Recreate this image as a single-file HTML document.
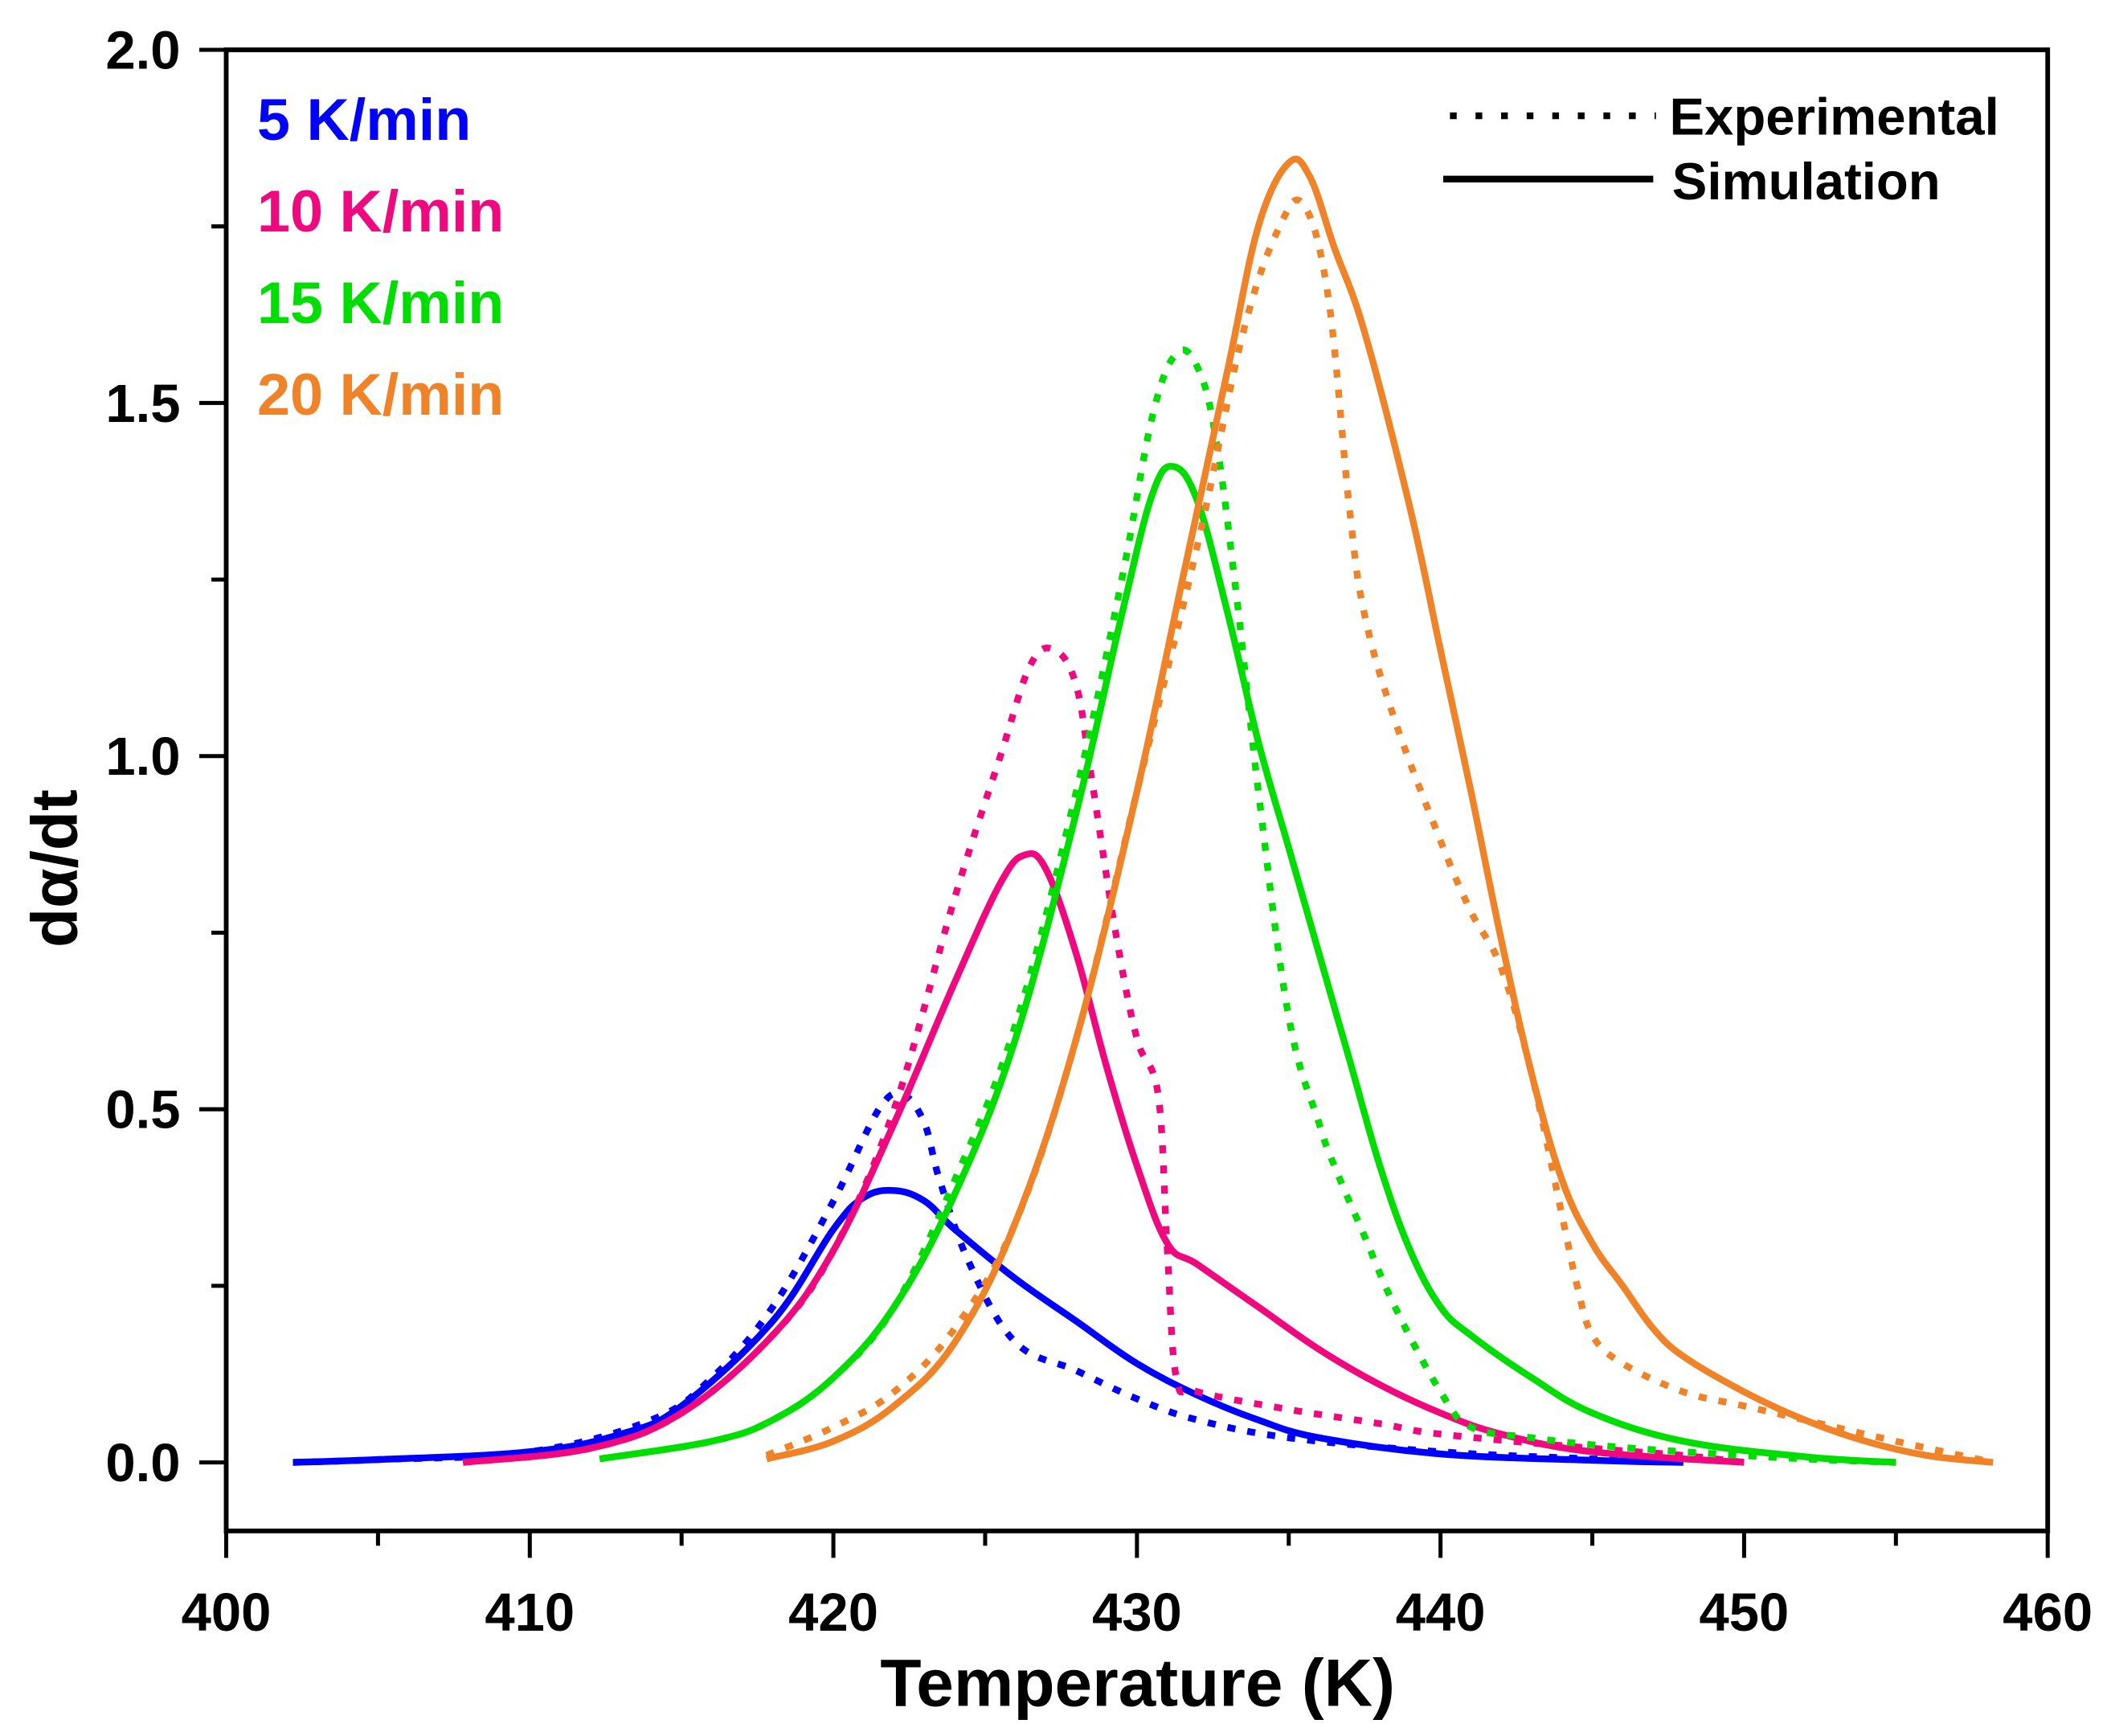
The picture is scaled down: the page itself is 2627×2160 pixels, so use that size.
<!DOCTYPE html>
<html><head><meta charset="utf-8"><style>
html,body{margin:0;padding:0;background:#fff}
svg{display:block}
text{font-family:"Liberation Sans",Arial,sans-serif;font-weight:bold}
</style></head><body>
<svg id="chart" width="2627" height="2160" viewBox="0 0 1568 1289.3" xmlns="http://www.w3.org/2000/svg">
<g id="plot"></g>
<g id="axes"></g>
<text x="0" y="0" transform="translate(57,645) rotate(-90)" text-anchor="middle" font-size="48">dα/dt</text>
<text x="845" y="1267" text-anchor="middle" font-size="50">Temperature (K)</text>
<g font-size="44">
<text x="191" y="104" fill="#0000ff">5 K/min</text>
<text x="191" y="172" fill="#f0087f">10 K/min</text>
<text x="191" y="240" fill="#00dd00">15 K/min</text>
<text x="191" y="308" fill="#f08228">20 K/min</text>
</g>
<g font-size="39">
<line x1="1077" y1="86" x2="1230" y2="86" stroke="#000" stroke-width="5" stroke-dasharray="5 14"/>
<text x="1240" y="100">Experimental</text>
<line x1="1072" y1="133" x2="1228" y2="133" stroke="#000" stroke-width="5"/>
<text x="1242" y="148">Simulation</text>
</g>
</svg>
<script>
const xTicks=[400,410,420,430,440,450,460];
const yTicks=[0.0,0.5,1.0,1.5,2.0];
const seriesNames=['5','10','15','20'];
const seriesColors=['#0000ff','#f0087f','#00dd00','#f08228'];
const simT5=[402.2,405,410,413,415,418,420,421,422,423,424,426,428,430,432,434,436,440,445,448];
const simV5=[0,0.004,0.015,0.04,0.08,0.2,0.33,0.375,0.385,0.37,0.33,0.26,0.2,0.14,0.095,0.06,0.035,0.012,0.003,0];
const expT5=[402.2,405,410,414,416,418,420,421.5,422.3,423,423.5,424.5,426,428,430,432,435,440,445,448];
const expV5=[0,0.004,0.015,0.06,0.12,0.22,0.37,0.5,0.52,0.48,0.4,0.28,0.17,0.13,0.09,0.06,0.035,0.015,0.005,0];
const simT10=[407.8,412,415,418,420,422,424,425.5,426.3,427,428,429,430,431,432,434,436,438,440,442,445,450];
const simV10=[0,0.02,0.07,0.18,0.3,0.48,0.68,0.82,0.86,0.84,0.72,0.56,0.42,0.31,0.28,0.22,0.16,0.11,0.07,0.04,0.015,0];
const expT10=[407.8,412,415,418,420,422,424,425.5,426.5,427.3,428,428.5,429.3,430,430.7,431,431.3,432,435,438,440,445,448,450];
const expV10=[0,0.02,0.07,0.18,0.3,0.5,0.8,1.0,1.13,1.15,1.1,0.97,0.75,0.6,0.52,0.3,0.12,0.1,0.075,0.055,0.04,0.02,0.01,0];
const simT15=[412.3,416,418,420,422,424,426,428,429.5,430.5,431.2,432,433,434,435,436,437,438,439,440,441,443,445,448,452,455];
const simV15=[0.005,0.03,0.06,0.12,0.22,0.38,0.6,0.92,1.2,1.37,1.41,1.36,1.2,1.02,0.87,0.72,0.57,0.42,0.3,0.22,0.18,0.12,0.07,0.03,0.008,0];
const expT15=[412.3,416,418,420,422,424,426,428,429.5,430.5,431.3,432,432.6,433.3,434,435,436,436.5,437.5,438.5,440,441,443,445,448,452,455];
const expV15=[0.005,0.03,0.06,0.12,0.22,0.4,0.62,0.95,1.25,1.48,1.57,1.55,1.45,1.22,0.95,0.63,0.48,0.42,0.32,0.22,0.1,0.05,0.035,0.025,0.015,0.005,0];
const simT20=[417.8,420,422,424,426,428,430,431.5,433,434,435,435.7,436.5,437.5,439,440,441,442,443,444,445,446,447,448,450,452,454,456,458.2];
const simV20=[0.005,0.03,0.08,0.17,0.34,0.6,0.95,1.25,1.55,1.75,1.84,1.82,1.72,1.6,1.35,1.15,0.95,0.74,0.55,0.4,0.31,0.25,0.19,0.15,0.1,0.06,0.03,0.01,0];
const expT20=[417.8,420,422,424,426,428,430,432,433.5,434.7,435.5,436.3,437,437.5,438.5,440,441,442,443,444,444.5,445,446,448,450,452,455,458.2];
const expV20=[0.01,0.05,0.1,0.19,0.34,0.6,0.95,1.3,1.6,1.75,1.78,1.65,1.35,1.2,1.05,0.88,0.78,0.7,0.55,0.35,0.25,0.18,0.14,0.1,0.08,0.06,0.03,0];

const L=168,R=1521,T=37,B=1137,X0=400,X1=460,Y0=-0.097,Y1=2.0;
const xs=v=>L+(v-X0)/(X1-X0)*(R-L);
const ys=v=>B-(v-Y0)/(Y1-Y0)*(B-T);
const NS='http://www.w3.org/2000/svg';
const plot=document.getElementById('plot'),axes=document.getElementById('axes');
function mk(tag,attrs,parent){const e=document.createElementNS(NS,tag);for(const k in attrs)e.setAttribute(k,attrs[k]);parent.appendChild(e);return e;}
const sims=[[simT5,simV5],[simT10,simV10],[simT15,simV15],[simT20,simV20]];
const exps=[[expT5,expV5],[expT10,expV10],[expT15,expV15],[expT20,expV20]];
function smooth(t,v){
 const p=t.map((x,i)=>[xs(x),ys(v[i])]);
 let d='M'+p[0][0].toFixed(1)+','+p[0][1].toFixed(1);
 const k=0.18;
 for(let i=0;i<p.length-1;i++){
  const p0=p[Math.max(0,i-1)],p1=p[i],p2=p[i+1],p3=p[Math.min(p.length-1,i+2)];
  const c1=[p1[0]+(p2[0]-p0[0])*k,p1[1]+(p2[1]-p0[1])*k];
  const c2=[p2[0]-(p3[0]-p1[0])*k,p2[1]-(p3[1]-p1[1])*k];
  d+=' C'+c1[0].toFixed(1)+','+c1[1].toFixed(1)+' '+c2[0].toFixed(1)+','+c2[1].toFixed(1)+' '+p2[0].toFixed(1)+','+p2[1].toFixed(1);
 }
 return d;
}
for(let i=0;i<4;i++){
 const e=mk('path',{d:smooth(exps[i][0],exps[i][1]),fill:'none',stroke:seriesColors[i],'stroke-width':5,'stroke-dasharray':'6 9','stroke-linejoin':'round'},plot);
 
 
 const s=mk('path',{d:smooth(sims[i][0],sims[i][1]),fill:'none',stroke:seriesColors[i],'stroke-width':5,'stroke-linejoin':'round'},plot);
 
 
}
const frame=mk('rect',{x:L,y:T,width:R-L,height:B-T,fill:'none',stroke:'#000','stroke-width':3.5},axes);


for(let v=400;v<=460;v+=5){
 const major=v%10===0;
 const t=mk('line',{x1:xs(v),x2:xs(v),y1:B,y2:B+(major?20:11),stroke:'#000','stroke-width':3},axes);
 
 
}
xTicks.forEach(v=>{const t=mk('text',{x:xs(v),y:B+74,'text-anchor':'middle','font-size':40},axes);t.textContent=v;
 
 });
for(let v=0;v<=2.0001;v+=0.25){
 const major=Math.abs(v*2-Math.round(v*2))<1e-6;
 const t=mk('line',{x1:L,x2:L-(major?20:11),y1:ys(v),y2:ys(v),stroke:'#000','stroke-width':3},axes);
 
 
}
yTicks.forEach(v=>{const t=mk('text',{x:L-34,y:ys(v)+14,'text-anchor':'end','font-size':40},axes);t.textContent=v.toFixed(1);
 
 });
</script>
</body></html>
